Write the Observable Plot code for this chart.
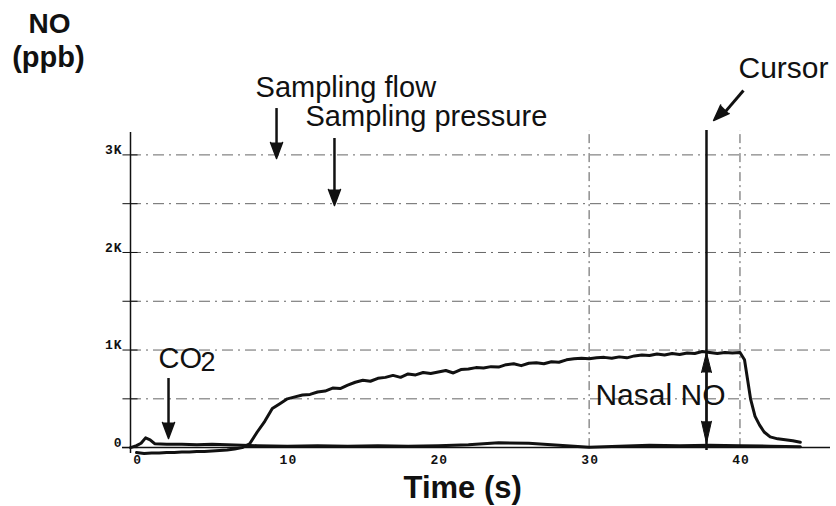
<!DOCTYPE html>
<html>
<head>
<meta charset="utf-8">
<script src="https://cdn.jsdelivr.net/npm/d3@7"></script>
<script src="https://cdn.jsdelivr.net/npm/@observablehq/plot@0.6"></script>
<style>
  html, body { margin: 0; padding: 0; background: #fff; }
  #chart svg { display: block; }
  #chart g[aria-label="y-axis tick label"],
  #chart g[aria-label="x-axis tick label"] { font-size: 13px !important; font-weight: bold; letter-spacing: 1px; }
  #chart g[aria-label="y-axis tick label"] text,
  #chart g[aria-label="x-axis tick label"] text { font-size: 13px !important; }
</style>
</head>
<body>
<div id="chart"></div>
<script>
// ---- data ----
const noTime = [0,0.5,1,1.5,2,2.5,3,3.5,4,4.5,5,5.5,6,6.5,7,7.5,8,8.5,9,9.5,10,10.5,11,11.5,12,12.5,13,13.5,14,14.5,15,15.5,16,16.5,17,17.5,18,18.5,19,19.5,20,20.5,21,21.5,22,22.5,23,23.5,24,24.5,25,25.5,26,26.5,27,27.5,28,28.5,29,29.5,30,30.5,31,31.5,32,32.5,33,33.5,34,34.5,35,35.5,36,36.5,37,37.5,38,38.5,39,39.5,40,40.3,40.5,40.7,41,41.3,41.6,42,42.5,43,43.5,44];
const noPpb  = [-50,-60,-55,-55,-50,-50,-45,-45,-40,-40,-35,-30,-25,-15,0,40,160,270,400,450,500,520,540,545,570,580,610,605,640,670,690,680,710,720,740,720,755,745,770,760,775,790,765,800,805,820,815,830,825,850,860,840,865,870,860,880,875,900,910,915,910,920,925,915,930,920,940,950,945,960,950,965,955,970,965,985,975,965,975,970,975,900,700,500,320,230,160,110,90,80,70,55];

const co2Time = [-0.4,0,0.3,0.6,0.9,1.2,2,3,4,5,6,7,8,10,12,14,16,18,20,22,24,26,28,30,32,34,36,38,40,42,44];
const co2Ppb  = [0,20,45,100,80,40,35,35,30,35,30,25,20,15,20,15,20,15,20,30,50,45,25,5,15,25,20,25,20,15,10];

const yGrid = [500,1000,1500,2000,2500,3000];
const yTicks = [0,1000,2000,3000];
const yTickLabels = ["0","1K","2K","3K"];
const xTicks = [0,10,20,30,40];
const xGrid = [30,40];
const cursorTime = [37.78];

const noData = noTime.map((t,i) => ({t, v: noPpb[i]}));
const co2Data = co2Time.map((t,i) => ({t, v: co2Ppb[i]}));

const sans = "'Liberation Sans', Arial, sans-serif";
const mono = "'Liberation Mono', 'Courier New', monospace";

const chart = Plot.plot({
  width: 836,
  height: 506,
  marginLeft: 130,
  marginRight: 6,
  marginTop: 130,
  marginBottom: 54,
  style: {background: "#fff", color: "#111", overflow: "visible"},
  x: {domain: [-0.4, 46], axis: null},
  y: {domain: [-50, 3250], axis: null},
  marks: [
    // gridlines
    Plot.ruleY(yGrid, {stroke: "#666", strokeWidth: 1, strokeDasharray: "11,5,2,5"}),
    Plot.ruleX(xGrid, {y1: 0, y2: 3250, stroke: "#555", strokeWidth: 1, strokeDasharray: "9,4,2,4"}),
    // axis lines
    Plot.ruleX([-0.4], {y1: -60, y2: 3230, stroke: "#111", strokeWidth: 1.5}),
    Plot.ruleY([0], {x1: -0.93, x2: 46, stroke: "#111", strokeWidth: 1.5}),
    Plot.ruleY(yGrid.concat([0]), {x1: -0.9, x2: 0.1, stroke: "#111", strokeWidth: 1}),
    // axes
    Plot.axisY(yTicks, {anchor: "left", label: null, tickSize: 0, tickPadding: 8, dy: -5,
      tickFormat: d => yTickLabels[yTicks.indexOf(d)],
      fontSize: 13, fontWeight: "bold", fontFamily: mono, fill: "#111"}),
    Plot.axisX(xTicks, {anchor: "bottom", label: null, tickSize: 0, tickPadding: 2, dx: 1,
      fontSize: 13, fontWeight: "bold", fontFamily: mono, fill: "#111"}),
    // traces
    Plot.line(co2Data, {x: "t", y: "v", stroke: "#111", strokeWidth: 3, curve: "linear"}),
    Plot.line(noData, {x: "t", y: "v", stroke: "#111", strokeWidth: 3, curve: "linear"}),
    // cursor
    Plot.ruleX(cursorTime, {y1: -30, y2: 3250, stroke: "#111", strokeWidth: 2.5}),
    // Nasal NO double arrow
    Plot.ruleX(cursorTime, {y1: 150, y2: 850, stroke: "#111", strokeWidth: 2}),
    Plot.vector(cursorTime, {x: d => d, y: 975, anchor: "end", rotate: 0, length: 20, r: 5, shape: "spike", fill: "#111", stroke: "#111", strokeWidth: 1}),
    Plot.vector(cursorTime, {x: d => d, y: 45, anchor: "end", rotate: 180, length: 22, r: 5, shape: "spike", fill: "#111", stroke: "#111", strokeWidth: 1}),
    // annotation arrows
    Plot.ruleX([9.28], {y1: 2990, y2: 3475, stroke: "#111", strokeWidth: 2.5}),
    Plot.vector([9.28], {x: d => d, y: 2963, anchor: "end", rotate: 180, length: 16, r: 6, shape: "spike", fill: "#111", stroke: "#111"}),
    Plot.ruleX([13.12], {y1: 2510, y2: 3168, stroke: "#111", strokeWidth: 2.5}),
    Plot.vector([13.12], {x: d => d, y: 2481, anchor: "end", rotate: 180, length: 16, r: 6, shape: "spike", fill: "#111", stroke: "#111"}),
    Plot.ruleX([2.12], {y1: 120, y2: 708, stroke: "#111", strokeWidth: 2.5}),
    Plot.vector([2.12], {x: d => d, y: 93, anchor: "end", rotate: 180, length: 16, r: 6, shape: "spike", fill: "#111", stroke: "#111"}),
    Plot.link([0], {x1: 40.23, y1: 3660, x2: 38.85, y2: 3410, stroke: "#111", strokeWidth: 3}),
    Plot.vector([0], {x: 38.25, y: 3352, anchor: "end", rotate: 225, length: 16, r: 6, shape: "spike", fill: "#111", stroke: "#111"}),
    // texts
    Plot.text(["NO"], {x: -5.77, y: 4254, text: d => d, textAnchor: "middle", lineAnchor: "bottom", fontSize: 28, fontWeight: "bold", fontFamily: sans, fill: "#111"}),
    Plot.text(["(ppb)"], {x: -5.84, y: 3896, text: d => d, textAnchor: "middle", lineAnchor: "bottom", fontSize: 29, fontWeight: "bold", fontFamily: sans, fill: "#111"}),
    Plot.text(["Sampling flow"], {x: 7.89, y: 3598, text: d => d, textAnchor: "start", lineAnchor: "bottom", fontSize: 29, fontFamily: sans, fill: "#111"}),
    Plot.text(["Sampling pressure"], {x: 11.2, y: 3291, text: d => d, textAnchor: "start", lineAnchor: "bottom", fontSize: 29, fontFamily: sans, fill: "#111"}),
    Plot.text(["Cursor"], {x: 39.9, y: 3783, text: d => d, textAnchor: "start", lineAnchor: "bottom", fontSize: 30, fontFamily: sans, fill: "#111"}),
    Plot.text(["Nasal NO"], {x: 30.42, y: 432, text: d => d, textAnchor: "start", lineAnchor: "bottom", fontSize: 30, fontFamily: sans, fill: "#111"}),
    Plot.text(["CO"], {x: 1.456, y: 821, text: d => d, textAnchor: "start", lineAnchor: "bottom", fontSize: 29, fontFamily: sans, fill: "#111"}),
    Plot.text(["2"], {x: 4.24, y: 790, text: d => d, textAnchor: "start", lineAnchor: "bottom", fontSize: 27, fontFamily: sans, fill: "#111"}),
    Plot.text(["Time (s)"], {x: 17.7, y: -520, text: d => d, textAnchor: "start", lineAnchor: "bottom", fontSize: 31, fontWeight: "bold", fontFamily: sans, fill: "#111"})
  ]
});
document.getElementById("chart").appendChild(chart);
</script>
</body>
</html>
